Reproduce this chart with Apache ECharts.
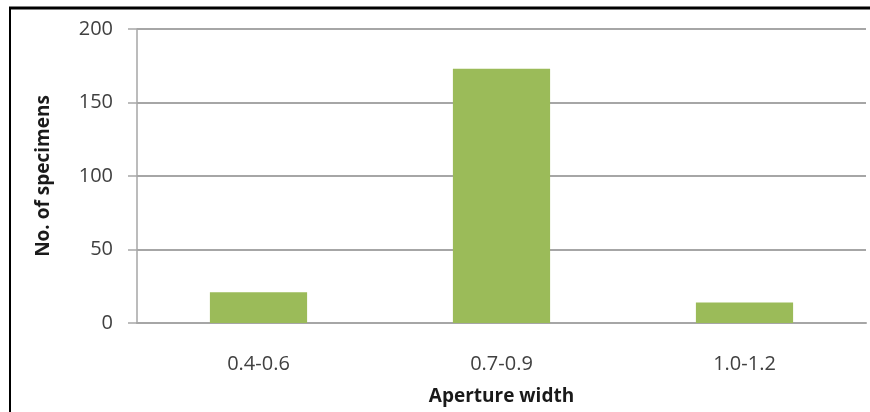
<!DOCTYPE html>
<html>
<head>
<meta charset="utf-8">
<script src="https://cdn.jsdelivr.net/npm/echarts@6/dist/echarts.min.js"></script>
<style>
  html, body { margin: 0; padding: 0; background: #fff; }
  #chart { width: 870px; height: 412px; }
</style>
</head>
<body>
<div id="chart"></div>
<script>
// Specimen counts by aperture width class
const categories = ['0.4-0.6', '0.7-0.9', '1.0-1.2'];
const specimens = [21, 173, 14];
const yTicks = { min: 0, max: 200, interval: 50 };

const FONT = '"Open Sans", "Noto Sans", sans-serif';
const GRID_COLOR = '#a6a6a6';
const TEXT_COLOR = '#404040';

const chart = echarts.init(document.getElementById('chart'), null, { renderer: 'canvas' });

chart.setOption({
  animation: false,
  backgroundColor: '#ffffff',
  grid: { left: 137, right: 4, top: 29, bottom: 89, containLabel: false, outerBoundsMode: 'none' },
  xAxis: {
    type: 'category',
    data: categories,
    name: 'Aperture width',
    nameLocation: 'middle',
    nameGap: 64,
    nameTextStyle: { fontFamily: FONT, fontSize: 19, fontWeight: 'bold', color: '#1a1a1a' },
    axisLine: { show: true, lineStyle: { color: GRID_COLOR, width: 2 } },
    axisTick: { show: false },
    axisLabel: { fontFamily: FONT, fontSize: 20, color: TEXT_COLOR, margin: 31 }
  },
  yAxis: {
    type: 'value',
    min: yTicks.min,
    max: yTicks.max,
    interval: yTicks.interval,
    name: 'No. of specimens',
    nameLocation: 'middle',
    nameGap: 84,
    nameRotate: 90,
    nameTextStyle: { fontFamily: FONT, fontSize: 19, fontWeight: 'bold', color: '#1a1a1a' },
    axisLine: { show: true, lineStyle: { color: GRID_COLOR, width: 1.5 } },
    axisTick: { show: true, inside: false, length: 9, lineStyle: { color: GRID_COLOR, width: 1.5 } },
    axisLabel: { fontFamily: FONT, fontSize: 20, color: TEXT_COLOR, margin: 24 },
    splitLine: { show: true, lineStyle: { color: GRID_COLOR, width: 2 } }
  },
  series: [{
    type: 'bar',
    data: specimens,
    barWidth: '40%',
    itemStyle: { color: '#9bbb59' }
  }],
  graphic: [
    // frame: top and left edges
    { type: 'line', shape: { x1: 9, y1: 8, x2: 870, y2: 8 }, style: { stroke: '#000', lineWidth: 3 }, silent: true },
    { type: 'line', shape: { x1: 10, y1: 7, x2: 10, y2: 412 }, style: { stroke: '#000', lineWidth: 2 }, silent: true }
  ]
});
</script>
</body>
</html>
